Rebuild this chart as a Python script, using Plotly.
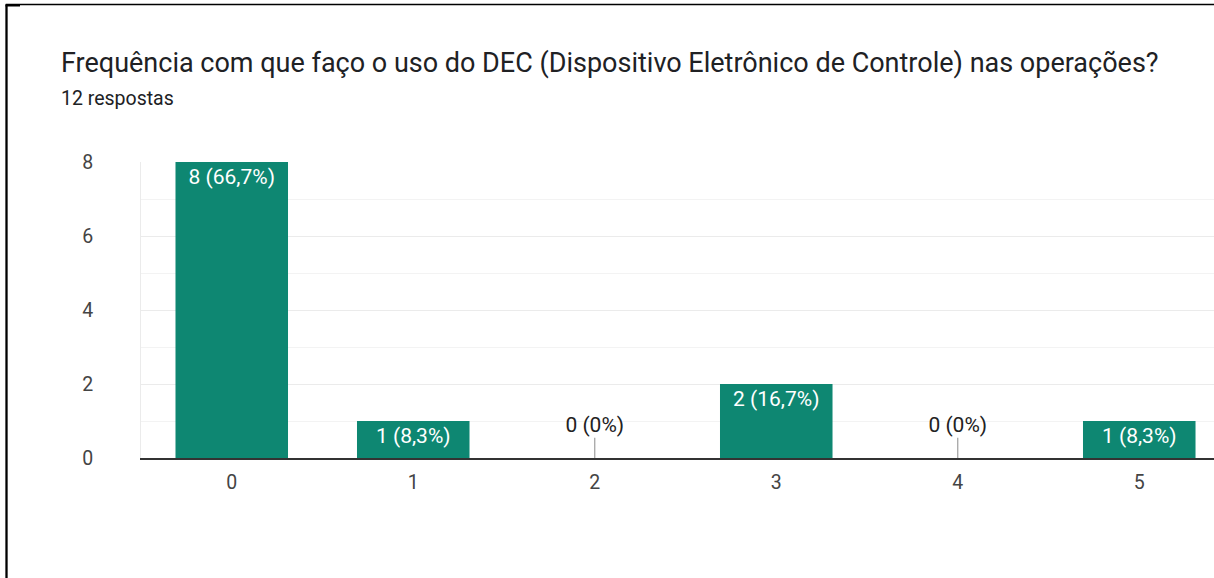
import plotly.graph_objects as go

categories = ["0", "1", "2", "3", "4", "5"]
counts = [8, 1, 0, 2, 0, 1]
percents = ["66,7%", "8,3%", "0%", "16,7%", "0%", "8,3%"]
y_ticks = [0, 2, 4, 6, 8]
title_text = "Frequência com que faço o uso do DEC (Dispositivo Eletrônico de Controle) nas operações?"
subtitle_text = "12 respostas"

W, H = 1214, 578
L, R, T, B = 141, 0, 162, 120
pw = W - L - R
ph = H - T - B

def px(x):
    return (x - L) / pw

def py(y):
    return (H - B - y) / ph

BAR = "#0e8772"
FONT = "Roboto, Arial, sans-serif"

labels = [f"{c} ({p})" for c, p in zip(counts, percents)]
xnum = list(range(len(categories)))

nz_x = [x for x, c in zip(xnum, counts) if c > 0]
nz_y = [c for c in counts if c > 0]
nz_t = [l for l, c in zip(labels, counts) if c > 0]
z_x = [x for x, c in zip(xnum, counts) if c == 0]
z_t = [l for l, c in zip(labels, counts) if c == 0]

fig = go.Figure()
fig.add_trace(go.Bar(
    x=nz_x, y=nz_y, text=nz_t, width=0.62,
    marker=dict(color=BAR, line=dict(width=0)),
    textposition="inside", insidetextanchor="end", textangle=0,
    constraintext="none",
    textfont=dict(color="white", size=21, family=FONT),
    hoverinfo="skip",
))
# zero-value markers: short gray stem with label above
fig.add_trace(go.Scatter(
    x=z_x, y=[0] * len(z_x), mode="markers",
    marker=dict(size=0.1, color="rgba(0,0,0,0)"),
    error_y=dict(type="data", array=[0.55] * len(z_x), arrayminus=[0] * len(z_x),
                 color="#9e9e9e", thickness=1.2, width=0, symmetric=False),
    hoverinfo="skip", showlegend=False,
))
fig.add_trace(go.Scatter(
    x=z_x, y=[0.55] * len(z_x), mode="text", text=z_t,
    textposition="top center",
    textfont=dict(color="#222222", size=21, family=FONT),
    hoverinfo="skip", showlegend=False,
))

shapes = [
    # page frame: only top and left edges fall inside the canvas
    dict(type="rect", xref="paper", yref="paper",
         x0=px(6.5), x1=px(W + 60), y0=py(4.5), y1=py(H + 60),
         line=dict(color="black", width=1.6), fillcolor="rgba(0,0,0,0)"),
    dict(type="rect", xref="paper", yref="paper",
         x0=px(5.5), x1=px(20), y0=py(4.5), y1=py(6.5),
         line=dict(width=0), fillcolor="black"),
    dict(type="rect", xref="paper", yref="paper",
         x0=px(5.5), x1=px(7.5), y0=py(4.5), y1=py(H + 60),
         line=dict(width=0), fillcolor="black"),
]

annotations = [
    dict(text=title_text, xref="paper", yref="paper", x=px(59), y=py(63),
         xanchor="left", yanchor="middle", showarrow=False,
         font=dict(size=27, color="#202124", family=FONT)),
    dict(text=subtitle_text, xref="paper", yref="paper", x=px(59), y=py(99),
         xanchor="left", yanchor="middle", showarrow=False,
         font=dict(size=19.5, color="#202124", family=FONT)),
]

fig.update_layout(
    width=W, height=H,
    margin=dict(l=L, r=R, t=T, b=B, pad=0),
    paper_bgcolor="white", plot_bgcolor="white",
    showlegend=False, bargap=0.38,
    shapes=shapes, annotations=annotations,
    font=dict(family=FONT, color="#444444", size=19.5),
)
fig.update_xaxes(
    range=[-0.5, -0.5 + pw / 181.5],
    tickmode="array", tickvals=xnum, ticktext=categories,
    showgrid=False, zeroline=False,
    showline=True, linecolor="#333333", linewidth=1.5,
    ticks="", tickfont=dict(size=19.5, color="#444444", family=FONT),
    ticklabelstandoff=6,
)
fig.update_yaxes(
    range=[0, 8], tickmode="array", tickvals=y_ticks,
    showgrid=True, gridcolor="#ebebeb", gridwidth=1,
    minor=dict(dtick=1, showgrid=True, gridcolor="#f3f3f3", gridwidth=1, tick0=0),
    zeroline=False, showline=True, linecolor="#ebebeb", linewidth=1,
    ticks="", tickfont=dict(size=19.5, color="#444444", family=FONT),
    ticklabelstandoff=43,
)

fig.write_html("out.html", config={"displayModeBar": False})
with open("out.html", "r", encoding="utf-8") as f:
    html = f.read()
html = html.replace("<body>", '<body style="margin:0;overflow:hidden">', 1)
with open("out.html", "w", encoding="utf-8") as f:
    f.write(html)
